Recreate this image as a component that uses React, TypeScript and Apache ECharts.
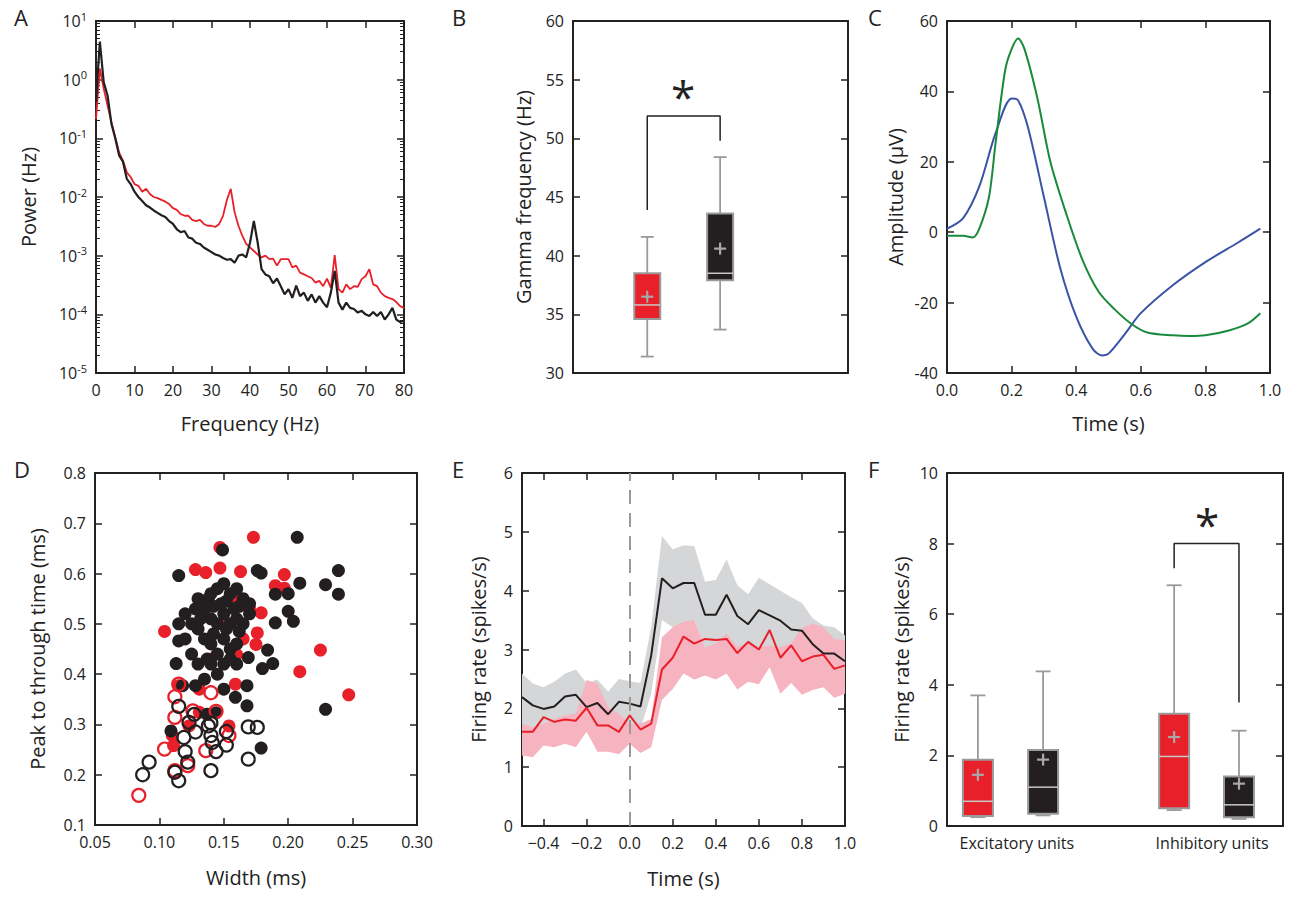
import { useEffect, useRef } from 'react';
import * as echarts from 'echarts';

// A: power spectra, log10 of power at 0..80 Hz
const freqs = Array.from({ length: 81 }, (_, i) => i);
const blackLogPower = [-0.38, 0.65, -0.04, -0.27, -0.75, -1.0, -1.29, -1.4, -1.69, -1.78, -1.91, -2.0, -2.07, -2.14, -2.18, -2.23, -2.27, -2.31, -2.34, -2.41, -2.46, -2.55, -2.6, -2.58, -2.69, -2.71, -2.78, -2.8, -2.86, -2.9, -2.94, -2.98, -3.0, -3.04, -3.07, -3.06, -3.12, -3.0, -2.98, -3.03, -2.78, -2.41, -2.78, -3.23, -3.32, -3.35, -3.47, -3.39, -3.52, -3.66, -3.57, -3.72, -3.51, -3.69, -3.63, -3.77, -3.66, -3.8, -3.69, -3.8, -3.88, -3.63, -3.26, -3.8, -3.92, -3.8, -3.89, -3.91, -3.97, -3.94, -4.0, -4.03, -3.96, -4.03, -3.96, -4.09, -4.0, -3.89, -4.09, -4.13, -4.11];
const redLogPower = [-0.67, 0.19, -0.15, -0.44, -0.72, -0.98, -1.24, -1.38, -1.58, -1.66, -1.78, -1.81, -1.91, -1.86, -1.95, -2.0, -2.02, -2.05, -2.08, -2.12, -2.19, -2.22, -2.29, -2.32, -2.32, -2.39, -2.41, -2.39, -2.46, -2.49, -2.49, -2.51, -2.46, -2.32, -2.05, -1.86, -2.26, -2.49, -2.66, -2.8, -2.86, -2.92, -2.98, -3.03, -3.0, -3.06, -3.05, -3.17, -3.06, -3.06, -3.06, -3.2, -3.17, -3.29, -3.32, -3.35, -3.38, -3.46, -3.43, -3.52, -3.39, -3.55, -2.99, -3.57, -3.63, -3.49, -3.57, -3.52, -3.53, -3.4, -3.35, -3.23, -3.49, -3.52, -3.63, -3.69, -3.72, -3.74, -3.79, -3.86, -3.89];

// B / F boxes: [x, low, q1, median, q3, high, mean, isBlack, halfWidth]
const gammaBoxes = [
  [0.27, 31.4, 34.6, 35.8, 38.5, 41.6, 36.5, 0, 13],
  [0.535, 33.7, 37.9, 38.5, 43.6, 48.4, 40.6, 1, 13],
];
const gammaBracket = [[0.27, 43.9], [0.27, 51.9], [0.535, 51.9], [0.535, 49.8]];
const rateBoxes = [
  [0.092, 0.25, 0.28, 0.7, 1.88, 3.7, 1.45, 0, 15],
  [0.286, 0.3, 0.35, 1.1, 2.15, 4.38, 1.88, 1, 15],
  [0.676, 0.45, 0.5, 1.97, 3.18, 6.82, 2.52, 0, 15],
  [0.869, 0.2, 0.25, 0.6, 1.4, 2.7, 1.2, 1, 15],
];
const rateBracket = [[0.676, 7.3], [0.676, 8.0], [0.869, 8.0], [0.869, 3.5]];
const unitLabels = ['Excitatory units', 'Inhibitory units'];

// C: waveforms
const blueWave = [[0, 1], [0.05, 4], [0.1, 13], [0.15, 28], [0.2, 38], [0.22, 37.5], [0.25, 30], [0.3, 10], [0.35, -10], [0.4, -24], [0.45, -33], [0.48, -35], [0.5, -34.5], [0.55, -29], [0.6, -23], [0.7, -15], [0.8, -8.5], [0.9, -3], [0.97, 1]];
const greenWave = [[0, -1], [0.05, -1], [0.08, -1.5], [0.1, 1], [0.13, 10], [0.15, 25], [0.18, 46], [0.2, 52], [0.22, 55], [0.24, 52], [0.28, 38], [0.32, 20], [0.37, 5], [0.42, -8], [0.47, -17], [0.52, -22], [0.57, -26], [0.62, -28.5], [0.7, -29.3], [0.75, -29.5], [0.8, -29.3], [0.87, -28], [0.93, -26], [0.97, -23]];

// D: width vs peak-to-trough
const redFilled = [[0.173, 0.672], [0.147, 0.652], [0.128, 0.608], [0.136, 0.602], [0.147, 0.611], [0.163, 0.604], [0.197, 0.598], [0.19, 0.576], [0.197, 0.571], [0.104, 0.485], [0.179, 0.522], [0.176, 0.482], [0.175, 0.459], [0.225, 0.448], [0.209, 0.405], [0.247, 0.359], [0.16, 0.439], [0.159, 0.38], [0.115, 0.377], [0.131, 0.37], [0.154, 0.297], [0.11, 0.278], [0.111, 0.258], [0.123, 0.297], [0.131, 0.324], [0.16, 0.55], [0.17, 0.53], [0.15, 0.5], [0.165, 0.47], [0.14, 0.43]];
const blackFilled = [[0.207, 0.672], [0.149, 0.647], [0.115, 0.596], [0.176, 0.606], [0.179, 0.601], [0.239, 0.606], [0.209, 0.581], [0.229, 0.578], [0.239, 0.559], [0.2, 0.56], [0.19, 0.559], [0.2, 0.525], [0.204, 0.505], [0.19, 0.502], [0.184, 0.448], [0.188, 0.421], [0.18, 0.411], [0.169, 0.433], [0.115, 0.466], [0.113, 0.421], [0.118, 0.377], [0.128, 0.377], [0.15, 0.37], [0.159, 0.354], [0.168, 0.377], [0.168, 0.337], [0.229, 0.33], [0.179, 0.253], [0.109, 0.287], [0.137, 0.32], [0.144, 0.323], [0.13, 0.55], [0.135, 0.53], [0.14, 0.56], [0.145, 0.57], [0.15, 0.58], [0.155, 0.56], [0.16, 0.57], [0.165, 0.55], [0.17, 0.54], [0.14, 0.51], [0.145, 0.5], [0.15, 0.52], [0.155, 0.5], [0.16, 0.51], [0.165, 0.5], [0.17, 0.52], [0.13, 0.49], [0.135, 0.47], [0.14, 0.46], [0.15, 0.47], [0.155, 0.45], [0.16, 0.46], [0.145, 0.44], [0.125, 0.5], [0.12, 0.52], [0.13, 0.42], [0.14, 0.42], [0.15, 0.42], [0.16, 0.42], [0.135, 0.39], [0.145, 0.4], [0.125, 0.44], [0.12, 0.47], [0.115, 0.5], [0.158, 0.53], [0.148, 0.54], [0.138, 0.55], [0.128, 0.53], [0.142, 0.535], [0.152, 0.545], [0.162, 0.535], [0.152, 0.49], [0.142, 0.48], [0.132, 0.51], [0.162, 0.485], [0.137, 0.43], [0.155, 0.43]];
const redOpen = [[0.084, 0.159], [0.112, 0.355], [0.115, 0.38], [0.112, 0.314], [0.14, 0.363], [0.144, 0.326], [0.126, 0.327], [0.104, 0.251], [0.112, 0.208], [0.136, 0.248], [0.154, 0.278], [0.122, 0.218]];
const blackOpen = [[0.087, 0.2], [0.092, 0.225], [0.112, 0.205], [0.115, 0.188], [0.14, 0.208], [0.169, 0.231], [0.169, 0.295], [0.176, 0.294], [0.115, 0.336], [0.127, 0.32], [0.123, 0.304], [0.128, 0.285], [0.138, 0.297], [0.14, 0.278], [0.141, 0.264], [0.144, 0.246], [0.152, 0.259], [0.152, 0.286], [0.12, 0.246], [0.122, 0.225], [0.119, 0.274], [0.14, 0.303]];

// E: firing rate time courses, t = -0.5..1.0 step 0.05
const times = Array.from({ length: 31 }, (_, i) => Math.round((-0.5 + i * 0.05) * 100) / 100);
const blackRate = [2.19, 2.05, 1.99, 2.03, 2.2, 2.23, 2.02, 2.09, 1.9, 2.11, 2.08, 2.03, 2.9, 4.21, 4.04, 4.13, 4.13, 3.59, 3.59, 3.93, 3.57, 3.43, 3.67, 3.58, 3.49, 3.34, 3.32, 3.09, 2.93, 2.93, 2.8];
const blackUpper = [2.59, 2.42, 2.36, 2.45, 2.59, 2.66, 2.43, 2.49, 2.28, 2.5, 2.46, 2.43, 3.38, 4.93, 4.7, 4.77, 4.76, 4.15, 4.18, 4.53, 4.09, 3.94, 4.22, 4.11, 4.0, 3.89, 3.79, 3.53, 3.41, 3.38, 3.24];
const blackLower = [1.71, 1.63, 1.61, 1.74, 1.77, 1.74, 1.85, 1.63, 1.57, 1.74, 1.68, 1.65, 2.25, 3.5, 3.38, 3.33, 3.5, 3.04, 3.07, 3.24, 2.84, 3.01, 3.04, 2.93, 2.84, 2.87, 2.53, 2.46, 2.45, 2.48, 2.45];
const redRate = [1.6, 1.6, 1.85, 1.77, 1.81, 1.79, 2.01, 1.71, 1.71, 1.6, 1.88, 1.64, 1.74, 2.66, 2.86, 3.22, 3.1, 3.18, 3.16, 3.18, 2.94, 3.13, 3.0, 3.33, 2.86, 3.07, 2.8, 2.88, 2.91, 2.67, 2.73];
const redUpper = [1.74, 1.68, 1.74, 1.82, 1.88, 1.91, 2.48, 2.42, 2.02, 1.91, 1.74, 1.74, 1.82, 3.21, 3.38, 3.47, 3.5, 3.04, 3.1, 3.27, 3.04, 3.13, 3.04, 3.07, 3.04, 3.1, 3.36, 3.44, 3.38, 3.18, 3.16];
const redLower = [1.2, 1.17, 1.37, 1.34, 1.4, 1.34, 1.6, 1.26, 1.26, 1.22, 1.4, 1.24, 1.34, 2.14, 2.33, 2.59, 2.49, 2.56, 2.49, 2.59, 2.32, 2.45, 2.41, 2.7, 2.25, 2.43, 2.23, 2.31, 2.36, 2.18, 2.25];
const eTicks = [-0.4, -0.2, 0, 0.2, 0.4, 0.6, 0.8, 1.0];

const RED = '#e8202a';
const BLACK = '#231f20';
const INK = '#222';
const FONT = 'Open Sans';

const grids = [
  { left: 96, top: 21, width: 308, height: 352 },
  { left: 573, top: 21, width: 275, height: 352 },
  { left: 947, top: 21, width: 323, height: 352 },
  { left: 95, top: 473, width: 322, height: 352 },
  { left: 522, top: 473, width: 323, height: 353 },
  { left: 947, top: 473, width: 336, height: 353 },
];

const axisBase = {
  axisLine: { onZero: false, lineStyle: { color: INK, width: 2 } },
  axisTick: { inside: true, length: 7, lineStyle: { color: INK, width: 1.5 } },
  splitLine: { show: false },
  axisLabel: { color: INK, fontSize: 16, fontFamily: FONT, margin: 9 },
  nameTextStyle: { color: INK, fontSize: 20, fontFamily: FONT },
  nameLocation: 'middle',
};

const mkAxes = (gi: number, x: any, y: any) => {
  const xs = [
    { ...axisBase, ...x, gridIndex: gi, position: 'bottom', axisTick: { ...axisBase.axisTick, ...(x.axisTick || {}) }, axisLabel: { ...axisBase.axisLabel, ...(x.axisLabel || {}) } },
    { ...axisBase, ...x, name: '', gridIndex: gi, position: 'top', axisTick: { ...axisBase.axisTick, ...(x.axisTick || {}) }, axisLabel: { show: false } },
  ];
  const ys = [
    { ...axisBase, ...y, gridIndex: gi, position: 'left', axisTick: { ...axisBase.axisTick, ...(y.axisTick || {}) }, axisLabel: { ...axisBase.axisLabel, ...(y.axisLabel || {}) } },
    { ...axisBase, ...y, name: '', gridIndex: gi, position: 'right', axisTick: { ...axisBase.axisTick, ...(y.axisTick || {}) }, axisLabel: { show: false } },
  ];
  return { xs, ys };
};

const boxItem = (params: any, api: any) => {
  const x = api.value(0);
  const lo = api.value(1), q1 = api.value(2), med = api.value(3), q3 = api.value(4), hi = api.value(5), mean = api.value(6);
  const fill = api.value(7) ? BLACK : RED;
  const hw = api.value(8);
  const px = api.coord([x, lo])[0];
  const py = (v: number) => api.coord([x, v])[1];
  const gray = '#9a9a9a';
  const ln = (x1: number, y1: number, x2: number, y2: number, color: string, w: number) => ({
    type: 'line', shape: { x1, y1, x2, y2 }, style: { stroke: color, lineWidth: w },
  });
  const cap = hw * 0.5;
  return {
    type: 'group',
    children: [
      ln(px, py(lo), px, py(q1), gray, 1.8),
      ln(px, py(q3), px, py(hi), gray, 1.8),
      ln(px - cap, py(lo), px + cap, py(lo), gray, 1.8),
      ln(px - cap, py(hi), px + cap, py(hi), gray, 1.8),
      { type: 'rect', shape: { x: px - hw, y: py(q3), width: hw * 2, height: py(q1) - py(q3) }, style: { fill, stroke: gray, lineWidth: 2 } },
      ln(px - hw, py(med), px + hw, py(med), '#c8c8c8', 1.5),
      ln(px - 6, py(mean), px + 6, py(mean), '#a8a8a8', 2.2),
      ln(px, py(mean) - 6, px, py(mean) + 6, '#a8a8a8', 2.2),
    ],
  };
};

// band between lo and hi curves, drawn as one polygon through the axis scales
const bandItem = (lo: number[], hi: number[], color: string) => (params: any, api: any) => {
  const top = times.map((t, i) => api.coord([t, hi[i]]));
  const bottom = times.map((t, i) => api.coord([t, lo[i]])).reverse();
  return { type: 'polygon', shape: { points: [...top, ...bottom] }, style: { fill: color } };
};

export default function App() {
  const ref = useRef<HTMLDivElement>(null);

  useEffect(() => {
    if (!ref.current) return;
    const chart = echarts.init(ref.current, null, { renderer: 'svg' });

    const a = mkAxes(0,
      { type: 'value', min: 0, max: 80, interval: 10, name: 'Frequency (Hz)', nameGap: 40 },
      {
        type: 'log', logBase: 10, min: 1e-5, max: 10, name: 'Power (Hz)', nameGap: 58,
        minorTick: { show: true, splitNumber: 9, length: 4, lineStyle: { color: INK } },
        axisLabel: {
          formatter: (v: number) => `{b|10}{s|${Math.round(Math.log10(v))}}`,
          rich: { b: { fontSize: 16, color: INK, fontFamily: FONT }, s: { fontSize: 11, color: INK, fontFamily: FONT, padding: [0, 0, 10, 0] } },
        },
      });
    const b = mkAxes(1,
      { type: 'value', min: 0, max: 1, axisTick: { show: false }, axisLabel: { show: false } },
      { type: 'value', min: 30, max: 60, interval: 5, name: 'Gamma frequency (Hz)', nameGap: 40 });
    const c = mkAxes(2,
      { type: 'value', min: 0, max: 1, interval: 0.2, name: 'Time (s)', nameGap: 40, axisLabel: { formatter: (v: number) => v.toFixed(1) } },
      { type: 'value', min: -40, max: 60, interval: 20, name: 'Amplitude (μV)', nameGap: 42 });
    const d = mkAxes(3,
      { type: 'value', min: 0.05, max: 0.3, interval: 0.05, name: 'Width (ms)', nameGap: 42, axisLabel: { formatter: (v: number) => v.toFixed(2) } },
      { type: 'value', min: 0.1, max: 0.8, interval: 0.1, name: 'Peak to through time (ms)', nameGap: 48, axisLabel: { formatter: (v: number) => v.toFixed(1) } });
    const e = mkAxes(4,
      {
        type: 'value', min: -0.5, max: 1.0, name: 'Time (s)', nameGap: 42,
        axisTick: { customValues: eTicks },
        axisLabel: { customValues: eTicks, formatter: (v: number) => (v < 0 ? '\u2212' + Math.abs(v).toFixed(1) : v.toFixed(1)) },
      },
      { type: 'value', min: 0, max: 6, interval: 1, name: 'Firing rate (spikes/s)', nameGap: 34 });
    const f = mkAxes(5,
      { type: 'value', min: 0, max: 1, axisTick: { show: false }, axisLabel: { show: false } },
      { type: 'value', min: 0, max: 10, interval: 2, name: 'Firing rate (spikes/s)', nameGap: 36 });

    const all = [a, b, c, d, e, f];
    const xAxis = all.flatMap((g) => g.xs);
    const yAxis = all.flatMap((g) => g.ys);
    const on = (i: number) => ({ xAxisIndex: 2 * i, yAxisIndex: 2 * i });

    const scatter = (data: number[][], color: string, open: boolean) => ({
      type: 'scatter', ...on(3), data, symbolSize: 13,
      itemStyle: open ? { color: 'rgba(0,0,0,0)', borderColor: color, borderWidth: 2.2, opacity: 1 } : { color, opacity: 1 },
    });

    const panelLetters = [['A', 14, 6], ['B', 452, 6], ['C', 868, 6], ['D', 14, 458], ['E', 452, 458], ['F', 868, 458]];

    chart.setOption({
      animation: false,
      textStyle: { fontFamily: FONT },
      grid: grids,
      xAxis,
      yAxis,
      graphic: [
        ...panelLetters.map(([t, x, y]) => ({ type: 'text', left: x, top: y, style: { text: t, fontSize: 22, fill: INK, fontFamily: FONT } })),
        { type: 'text', left: 671, top: 74, style: { text: '*', fontSize: 44, fill: INK, fontFamily: FONT } },
        { type: 'text', left: 1195, top: 502, style: { text: '*', fontSize: 44, fill: INK, fontFamily: FONT } },
        { type: 'text', x: 947 + 0.208 * 336, y: 835, style: { text: unitLabels[0], fontSize: 16, fill: INK, fontFamily: FONT, align: 'center' } },
        { type: 'text', x: 947 + 0.789 * 336, y: 835, style: { text: unitLabels[1], fontSize: 16, fill: INK, fontFamily: FONT, align: 'center' } },
      ],
      series: [
        { type: 'line', ...on(0), data: freqs.map((fq, i) => [fq, Math.pow(10, redLogPower[i])]), symbol: 'none', lineStyle: { color: RED, width: 1.8 } },
        { type: 'line', ...on(0), data: freqs.map((fq, i) => [fq, Math.pow(10, blackLogPower[i])]), symbol: 'none', lineStyle: { color: BLACK, width: 2.2 } },

        { type: 'line', ...on(1), data: gammaBracket, symbol: 'none', lineStyle: { color: INK, width: 1.5 } },
        { type: 'custom', ...on(1), data: gammaBoxes, renderItem: boxItem },

        { type: 'line', ...on(2), data: blueWave, smooth: 0.3, symbol: 'none', lineStyle: { color: '#3a53a4', width: 2 } },
        { type: 'line', ...on(2), data: greenWave, smooth: 0.3, symbol: 'none', lineStyle: { color: '#198a3c', width: 2 } },

        scatter(redFilled, RED, false),
        scatter(blackFilled, BLACK, false),
        scatter(redOpen, RED, true),
        scatter(blackOpen, BLACK, true),

        { type: 'custom', ...on(4), data: [[0, 0]], renderItem: bandItem(blackLower, blackUpper, '#d5d6d8'), silent: true },
        { type: 'custom', ...on(4), data: [[0, 0]], renderItem: bandItem(redLower, redUpper, '#f6b3c0'), silent: true },
        {
          type: 'line', ...on(4), data: times.map((t, i) => [t, blackRate[i]]), symbol: 'none', lineStyle: { color: BLACK, width: 2 },
          markLine: { silent: true, symbol: 'none', label: { show: false }, lineStyle: { color: '#999', type: [14, 9], width: 2 }, data: [{ xAxis: 0 }] },
        },
        { type: 'line', ...on(4), data: times.map((t, i) => [t, redRate[i]]), symbol: 'none', lineStyle: { color: RED, width: 2 } },

        { type: 'line', ...on(5), data: rateBracket, symbol: 'none', lineStyle: { color: INK, width: 1.5 } },
        { type: 'custom', ...on(5), data: rateBoxes, renderItem: boxItem },
      ],
    });

    return () => chart.dispose();
  }, []);

  return <div ref={ref} style={{ position: 'absolute', left: 0, top: 0, width: 1298, height: 898 }} />;
}
